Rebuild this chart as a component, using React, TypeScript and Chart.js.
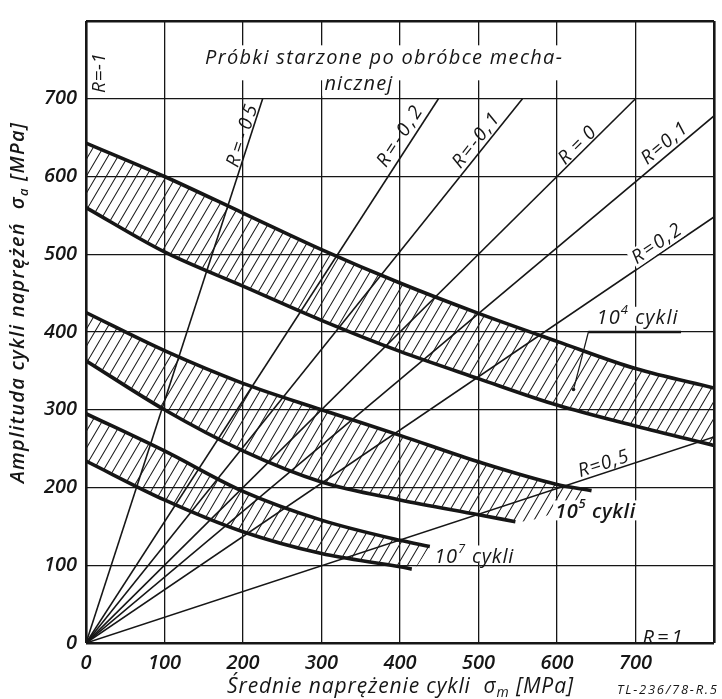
import React, { useEffect, useRef } from 'react';
import { Chart, registerables } from 'chart.js';

Chart.register(...registerables);

// ---------------- data ----------------
const axisMin = 0;
const axisMax = 800;
const tickStep = 100;
const xTickLabels = ['0', '100', '200', '300', '400', '500', '600', '700'];
const yTickLabels = ['0', '100', '200', '300', '400', '500', '600', '700'];

// R = const lines from the origin: end points (σm, σa)
const rLineNames = ['R=-0,5', 'R=-0,2', 'R=-0,1', 'R=0', 'R=0,1', 'R=0,2', 'R=0,5'];
const rLineEndSm = [225, 449, 556, 700, 800, 800, 800];
const rLineEndSa = [700, 700, 700, 700, 678, 548, 265];

// 10^4 cycles band
const band1Sm = [0, 100, 200, 300, 400, 500, 600, 700, 800];
const band1Upper = [643, 600, 553, 506, 463, 424, 388, 353, 328];
const band1Lower = [560, 503, 459, 415, 375, 340, 306, 279, 254];

// 10^5 cycles band
const band2UpperSm = [0, 100, 200, 300, 400, 500, 600, 644];
const band2Upper = [425, 376, 334, 300, 267, 233, 204, 196];
const band2LowerSm = [0, 100, 200, 300, 400, 500, 547];
const band2Lower = [363, 300, 247, 207, 184, 165, 156];
const band2HatchTipSm = [595, 644];
const band2HatchTip = [167, 196];

// 10^7 cycles band
const band3UpperSm = [0, 100, 200, 300, 400, 438];
const band3Upper = [295, 247, 195, 158, 132, 124];
const band3LowerSm = [0, 100, 200, 300, 400, 415];
const band3Lower = [234, 184, 143, 115, 98, 95];
const band3HatchTipSm = [438];
const band3HatchTip = [124];

// ---------------- text ----------------
const titleLine1 = 'Próbki starzone po obróbce mecha-';
const titleLine2 = 'nicznej';
const labelRm1 = 'R=-1';
const labelRm05 = 'R=-05';
const labelR1 = 'R=1';
const cycleLabels = ['4', '5', '7'];
const footnote = 'TL-236/78-R.5';

const INK = '#161616';
const FAMILY = '"Open Sans", "DejaVu Sans", sans-serif';
const BOLD = 600;
const REG = 400;

type Seg = { t: string; sup?: boolean; sub?: boolean };
type Box = { l: number; r: number; t: number; b: number };

function drawRich(
  ctx: CanvasRenderingContext2D,
  segs: Seg[],
  cx: number,
  cy: number,
  angle: number,
  size: number,
  targetW: number,
  weight: number,
  bg?: Box | null,
) {
  const main = `italic ${weight} ${size}px ${FAMILY}`;
  const small = `italic ${weight} ${Math.round(size * 0.66)}px ${FAMILY}`;
  const items: { ch: string; w: number; font: string; dy: number }[] = [];
  for (const s of segs) {
    const f = s.sup || s.sub ? small : main;
    ctx.font = f;
    for (const ch of Array.from(s.t)) {
      items.push({
        ch,
        w: ctx.measureText(ch).width,
        font: f,
        dy: s.sup ? -size * 0.42 : s.sub ? size * 0.3 : 0,
      });
    }
  }
  const natural = items.reduce((a, i) => a + i.w, 0);
  const ls = targetW ? (targetW - natural) / Math.max(1, items.length - 1) : 0;
  const total = natural + ls * (items.length - 1);
  ctx.save();
  ctx.translate(cx, cy);
  ctx.rotate((angle * Math.PI) / 180);
  if (bg) {
    ctx.fillStyle = '#ffffff';
    ctx.fillRect(-total / 2 - bg.l, -bg.t, total + bg.l + bg.r, bg.t + bg.b);
  }
  ctx.fillStyle = INK;
  ctx.textBaseline = 'middle';
  ctx.textAlign = 'left';
  let x = -total / 2;
  for (const it of items) {
    ctx.font = it.font;
    ctx.fillText(it.ch, x, it.dy);
    x += it.w + ls;
  }
  ctx.restore();
}

// label placement (in data units of the chart: σm, σa)
const plotLabels: {
  segs: Seg[];
  x: number;
  y: number;
  angle: number;
  size: number;
  w: number;
  weight: number;
  bg?: Box;
}[] = [
  { segs: [{ t: titleLine1 }], x: 379, y: 752, angle: 0, size: 20, w: 357, weight: REG, bg: { l: 3, r: 3, t: 13, b: 22 } },
  { segs: [{ t: titleLine2 }], x: 347, y: 719, angle: 0, size: 20, w: 68, weight: REG, bg: { l: 2, r: 3, t: 14, b: 12 } },
  { segs: [{ t: labelRm1 }], x: 17.7, y: 733, angle: -90, size: 19, w: 40, weight: REG },
  { segs: [{ t: labelRm05 }], x: 199.4, y: 652, angle: -72, size: 19, w: 64, weight: REG },
  { segs: [{ t: rLineNames[1] }], x: 400, y: 651, angle: -57, size: 19, w: 68, weight: REG },
  { segs: [{ t: rLineNames[2] }], x: 497, y: 646, angle: -51.5, size: 19, w: 64, weight: REG },
  { segs: [{ t: rLineNames[3] }], x: 626, y: 639.5, angle: -45, size: 19, w: 45, weight: REG },
  { segs: [{ t: rLineNames[4] }], x: 737, y: 642, angle: -40, size: 19, w: 54, weight: REG },
  { segs: [{ t: rLineNames[5] }], x: 727, y: 513, angle: -34.5, size: 19, w: 56, weight: REG, bg: { l: 2, r: 2, t: 10, b: 9 } },
  { segs: [{ t: rLineNames[6] }], x: 659, y: 230, angle: -18, size: 19, w: 52, weight: REG },
  { segs: [{ t: labelR1 }], x: 734.4, y: 6.3, angle: 0, size: 20, w: 40, weight: REG },
  { segs: [{ t: '10' }, { t: cycleLabels[0], sup: true }, { t: ' cykli' }], x: 702, y: 417, angle: 0, size: 20, w: 81, weight: REG, bg: { l: 2, r: 2, t: 12, b: 7 } },
  { segs: [{ t: '10' }, { t: cycleLabels[1], sup: true }, { t: ' cykli' }], x: 648.6, y: 168, angle: 0, size: 20, w: 80, weight: BOLD, bg: { l: 2, r: 2, t: 12, b: 8 } },
  { segs: [{ t: '10' }, { t: cycleLabels[2], sup: true }, { t: ' cykli' }], x: 494, y: 110, angle: 0, size: 20, w: 79, weight: REG, bg: { l: 2, r: 2, t: 12, b: 5 } },
];

// leader for the 10^4 label (data units)
const leaderFrom = { x: 640, y: 400 };
const leaderTo = { x: 621, y: 326 };
const underlineEndX = 758;

const annotationPlugin = {
  id: 'haighAnnotations',
  afterDatasetsDraw(chart: any) {
    const ctx: CanvasRenderingContext2D = chart.ctx;
    const xs = chart.scales.x;
    const ys = chart.scales.y;
    const px = (v: number) => xs.getPixelForValue(v);
    const py = (v: number) => ys.getPixelForValue(v);
    for (const L of plotLabels) {
      drawRich(ctx, L.segs, px(L.x), py(L.y), L.angle, L.size, L.w, L.weight, L.bg || null);
    }
    ctx.save();
    ctx.strokeStyle = INK;
    ctx.lineWidth = 2.6;
    ctx.beginPath();
    ctx.moveTo(px(leaderFrom.x), py(leaderFrom.y));
    ctx.lineTo(px(underlineEndX), py(leaderFrom.y));
    ctx.stroke();
    ctx.lineWidth = 1.2;
    ctx.beginPath();
    ctx.moveTo(px(leaderFrom.x), py(leaderFrom.y));
    ctx.lineTo(px(leaderTo.x), py(leaderTo.y));
    ctx.stroke();
    ctx.fillStyle = INK;
    ctx.beginPath();
    ctx.arc(px(leaderTo.x), py(leaderTo.y), 1.8, 0, Math.PI * 2);
    ctx.fill();
    ctx.restore();
  },
  afterDraw(chart: any) {
    const ctx: CanvasRenderingContext2D = chart.ctx;
    const a = chart.chartArea;
    drawRich(
      ctx,
      [{ t: 'Średnie naprężenie cykli  σ' }, { t: 'm', sub: true }, { t: ' [MPa]' }],
      (a.left + a.right) / 2,
      687,
      0,
      21,
      346,
      REG,
    );
    drawRich(
      ctx,
      [{ t: 'Amplituda cykli naprężeń  σ' }, { t: 'a', sub: true }, { t: ' [MPa]' }],
      18,
      303,
      -90,
      20,
      360,
      BOLD,
    );
    drawRich(ctx, [{ t: footnote }], 667, 690, 0, 13, 100, REG);
  },
};

const pts = (xs: number[], ys: number[]) => xs.map((x, i) => ({ x, y: ys[i] }));

export default function App() {
  const ref = useRef<HTMLCanvasElement | null>(null);

  useEffect(() => {
    const canvas = ref.current;
    if (!canvas) return;
    const mainCtx = canvas.getContext('2d')!;

    const tile = document.createElement('canvas');
    tile.width = 10;
    tile.height = 17;
    const g = tile.getContext('2d')!;
    g.strokeStyle = '#1c1c1c';
    g.lineWidth = 1.05;
    g.beginPath();
    for (const o of [-10, 0, 10]) {
      g.moveTo(o, 17);
      g.lineTo(o + 10, 0);
    }
    g.stroke();
    const hatch = mainCtx.createPattern(tile, 'repeat');

    const rDatasets = rLineNames.map((name, i) => ({
      label: name,
      data: [
        { x: 0, y: 0 },
        { x: rLineEndSm[i], y: rLineEndSa[i] },
      ],
      borderColor: INK,
      borderWidth: 1.6,
      pointRadius: 0,
      fill: false,
      tension: 0,
    }));

    const curve = (label: string, data: any[], extra: any = {}) => ({
      label,
      data,
      borderColor: INK,
      borderWidth: 3.6,
      pointRadius: 0,
      cubicInterpolationMode: 'monotone',
      fill: false,
      borderCapStyle: 'butt',
      ...extra,
    });
    const n = rDatasets.length;

    const datasets: any[] = [
      ...rDatasets,
      curve('10^4 upper', pts(band1Sm, band1Upper), { fill: { target: n + 1 }, backgroundColor: hatch }),
      curve('10^4 lower', pts(band1Sm, band1Lower)),
      curve('10^5 upper', pts(band2UpperSm, band2Upper), { fill: { target: n + 4 }, backgroundColor: hatch }),
      curve('10^5 lower', pts(band2LowerSm, band2Lower)),
      curve(
        '10^5 hatch edge',
        pts([...band2LowerSm, ...band2HatchTipSm], [...band2Lower, ...band2HatchTip]),
        { borderWidth: 0, borderColor: 'rgba(0,0,0,0)' },
      ),
      curve('10^7 upper', pts(band3UpperSm, band3Upper), { fill: { target: n + 7 }, backgroundColor: hatch }),
      curve('10^7 lower', pts(band3LowerSm, band3Lower)),
      curve(
        '10^7 hatch edge',
        pts([...band3LowerSm, ...band3HatchTipSm], [...band3Lower, ...band3HatchTip]),
        { borderWidth: 0, borderColor: 'rgba(0,0,0,0)' },
      ),
    ];

    const gridWidth = (c: any) =>
      c.tick && (c.tick.value === axisMin || c.tick.value === axisMax) ? 2.6 : 1.3;
    const tickFont = { family: FAMILY, style: 'italic' as const, size: 20, weight: BOLD as any };

    const chart = new Chart(canvas, {
      type: 'line',
      data: { datasets },
      options: {
        animation: false,
        responsive: false,
        devicePixelRatio: 1,
        layout: { padding: { top: 10, right: 2, left: 0, bottom: 0 } },
        plugins: { legend: { display: false }, tooltip: { enabled: false }, title: { display: false } },
        scales: {
          x: {
            type: 'linear',
            min: axisMin,
            max: axisMax,
            ticks: {
              stepSize: tickStep,
              autoSkip: false,
              maxRotation: 0,
              padding: 8,
              color: INK,
              font: tickFont,
              callback: (v: any, i: number) => xTickLabels[i] ?? '',
            },
            grid: { color: INK, lineWidth: gridWidth, drawTicks: false },
            border: { display: false },
            afterFit: (s: any) => {
              s.height = 56;
            },
          },
          y: {
            type: 'linear',
            min: axisMin,
            max: axisMax,
            ticks: {
              stepSize: tickStep,
              autoSkip: false,
              padding: 9,
              color: INK,
              font: tickFont,
              callback: (v: any, i: number) => yTickLabels[i] ?? '',
            },
            grid: { color: INK, lineWidth: gridWidth, drawTicks: false },
            border: { display: false },
            afterFit: (s: any) => {
              s.width = 86;
            },
          },
        },
      },
      plugins: [annotationPlugin],
    } as any);

    return () => chart.destroy();
  }, []);

  return (
    <canvas
      ref={ref}
      width={722}
      height={699}
      style={{ position: 'absolute', left: 0, top: 0, width: 722, height: 699, background: '#fff' }}
    />
  );
}
